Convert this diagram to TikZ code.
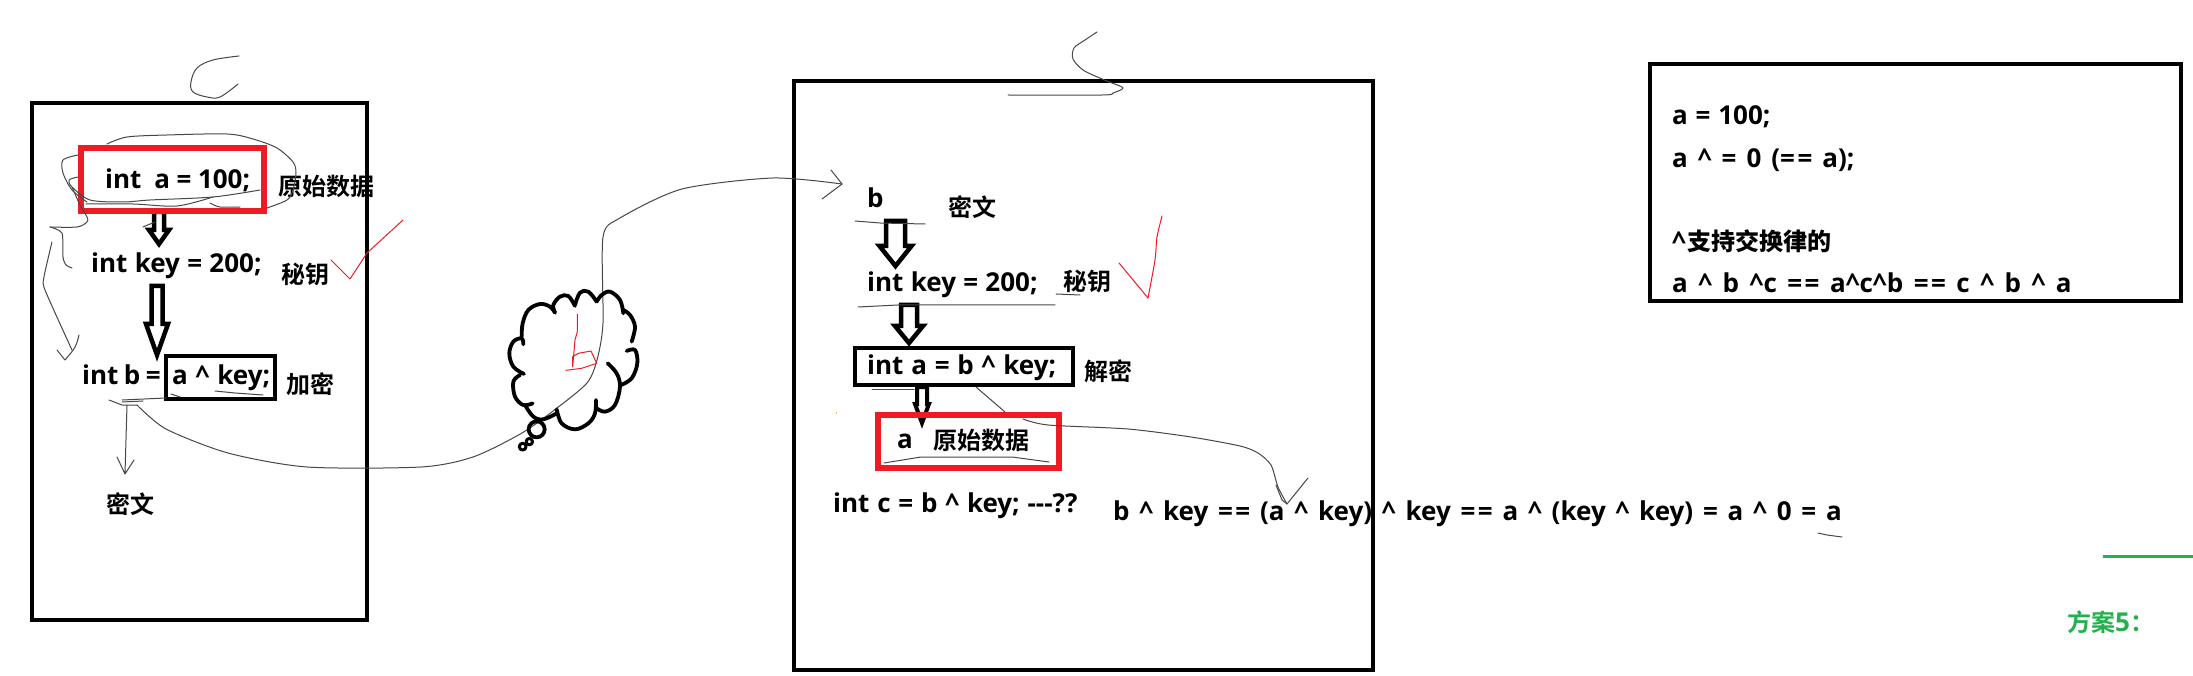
\documentclass[tikz,border=0pt]{standalone}
\usepackage{fontspec}
\setmainfont{Open Sans}[BoldFont={Open Sans Bold}]
\newfontfamily\cjk{Noto Sans CJK SC Bold}
\definecolor{rd}{RGB}{237,28,36}
\definecolor{gn}{RGB}{34,177,76}
\newcommand{\fatarr}[7][4.5pt]{%
 \draw[draw=black,fill=white,line width=#1,line join=miter,miter limit=10]
 (#2-#3,#5) -- (#2-#3,#6) -- (#2-#4,#6) -- (#2,#7) -- (#2+#4,#6) -- (#2+#3,#6) -- (#2+#3,#5) -- cycle;}
\newcommand{\eqq}{=\kern2.5pt=}
\newcommand{\xr}{\^{}}
\newcommand{\sk}[1]{\spaceskip #1pt\relax}
\tikzset{
 x=1pt,y=-1pt,
 frame/.style={draw=black,line width=4.6pt},
 redbox/.style={draw=rd,line width=6.5pt},
 blackbox/.style={draw=black,line width=4pt},
 code/.style={font=\fontsize{26}{26}\selectfont\bfseries,anchor=base west,inner sep=0pt,text=black,execute at begin node={\sk{7.8}}},
 zh/.style={font=\fontsize{24}{24}\selectfont\cjk,anchor=base west,inner sep=0pt,text=black},
 pen/.style={draw=black!72,line width=1pt,line join=round,line cap=round},
 redpen/.style={draw=rd,line width=1pt,line join=round,line cap=round},
 cloudline/.style={draw=black,line width=3.8pt,line cap=round,line join=round},
 zoomA/.style={shift={(440,150)},x=0.33333pt,y=-0.33333pt},
}
\begin{document}
\begin{tikzpicture}
\useasboundingbox (0,0) rectangle (2193,676);
\fill[white] (0,0) rectangle (2193,676);
% frames
\coordinate (fa) at (32,103);\coordinate (fb) at (367,620);
\draw[frame] (fa) rectangle (fb);
\coordinate (ga) at (794,81);\coordinate (gb) at (1373,670);
\draw[frame] (ga) rectangle (gb);
\coordinate (ha) at (1650,64);\coordinate (hb) at (2181,301);
\draw[frame,line width=3.8pt] (ha) rectangle (hb);
% left fat arrows and boxes
\fatarr{159}{5}{10}{212}{230}{244}
\fatarr{157}{5.5}{11}{286}{324}{355}
\draw[redbox] (81,148) rectangle (264,211);
\draw[blackbox] (166,356) rectangle (275,399);
% left text
\node[code] (t1) at (105,189) {\sk{6.5}int\ \ a = 100;};
\node[zh] (z1) at (278,196) {原始数据};
\node[code] (t2) at (91,273) {\sk{7.3}int key = 200;};
\node[zh] (z2) at (281,284) {秘钥};
\node[code] (t3) at (82,384) {\sk{5.5}int b =};
\node[code] (t4) at (172,384) {a \xr{} key;};
\node[zh] (z3) at (286,393) {加密};
\node[zh] (z4) at (106,513) {密文};
% middle fat arrows and boxes
\fatarr{895.5}{9.5}{16}{221}{246}{266}
\fatarr{909}{8}{14}{305}{326}{343}
\fatarr[4pt]{922}{5}{7}{387}{404}{423}
\draw[blackbox] (855,348) rectangle (1073,385);
\draw[redbox] (878,415) rectangle (1059,468);
% middle text
\node[code] (m1) at (867,208) {b};
\node[zh] (m2) at (948,217) {密文};
\node[code] (m3) at (867,292) {\sk{7.3}int key = 200;};
\node[zh] (m4) at (1063,291) {秘钥};
\node[code] (m5) at (867,374) {int a = b \xr{} key;};
\node[zh] (m6) at (1084,381) {解密};
\node[code] (m7) at (897,448) {a};
\node[zh] (m8) at (933,449) {原始数据};
\node[code] (m9) at (833,512) {int c = b \xr{} key; -{}-{}-??};
\node[code] (eq) at (1113,520) {\sk{9.8}b \xr{} key \eqq{} (a \xr{} key) \xr{} key \eqq{} a \xr{} (key \xr{} key) = a \xr{} 0 = a};
% right text
\node[code] (r1) at (1672,125) {a = 100;};
\node[code] (r2) at (1672,168) {\sk{10}a \xr{} = 0 (\eqq{} a);};
\node[code] (r3) at (1672,251) {\xr{}\hspace{1pt}{\fontsize{24}{24}\selectfont\cjk 支持交换律的}};
\node[code] (r4) at (1672,293) {\sk{10.5}a \xr{} b \xr{}c \eqq{} a\xr{}c\xr{}b \eqq{} c \xr{} b \xr{} a};
% green
\coordinate (g1) at (2103,556);\coordinate (g2) at (2193,556);
\draw[gn,line width=3pt] (g1) -- (g2);
\node[zh,text=gn] (g3) at (2067,631) {方案{\fontsize{26}{26}\selectfont\bfseries\rmfamily 5}：};
% pen scribbles: left
\draw[pen] plot[smooth,tension=0.6] coordinates {(239,56)(213,60)(197,68)(191,82)(193,92)(207,97)(220,97)(238,84)};
\draw[pen] plot[smooth,tension=0.5] coordinates {(107,144)(127,137)(167,135)(227,134)(253,139)(277,148)(293,162)(296,173)(293,190)(287,200)(267,208)};
\draw[pen] plot[smooth,tension=0.5] coordinates {(78,155)(63,160)(63,173)(72,190)(87,202)};
\draw[pen] plot[smooth,tension=0.5] coordinates {(260,190)(213,197)(150,200)(123,202)(90,200)(72,187)(69,180)(78,177)};
\draw[pen] plot[smooth,tension=0.5] coordinates {(86,204)(133,204)(177,206)(213,197)};
\draw[pen] plot[smooth,tension=0.5] coordinates {(210,203)(220,207)(240,207)};
\draw[pen] plot[smooth,tension=0.5] coordinates {(72,187)(80,205)(87,217)(87,222)(77,227)(50,227)};
\draw[pen] plot[smooth,tension=0.4] coordinates {(50,227)(62,233)(63,257)(66,265)(72,268)};
\draw[pen] plot[smooth,tension=0.4] coordinates {(52,242)(44,277)(45,290)(72,350)};
\draw[pen] (79,335) .. controls (76,347) .. (65,360) -- (57,350);
\draw[pen] (143,227) -- (155,222);
\draw[redpen] (331,260) -- (350,279) -- (367,253) -- (403,220);
\draw[pen] (171,394) -- (180,397);
\draw[pen] (215,391) -- (235,393) -- (263,395);
\draw[pen] (122,400) -- (166,398);
\draw[pen] (122,402) -- (143,401);
\draw[pen] (109,400) -- (122,405) -- (137,405);
% long pen connector from left to middle
\coordinate (c1) at (127,405);\coordinate (c2) at (125,474);
\draw[pen] (c1) -- (c2) (117,457) -- (c2) -- (134,460);
\coordinate (lc) at (137,405);\coordinate (rc) at (842,184);
\draw[pen] plot[smooth,tension=0.45] coordinates {(lc)(166,429)(228,453)(307,467)(421,467)(473,457)(522,433)(557,408)(587,383)(597,360)(603,323)(603,237)(620,218)(682,189)(773,178)(rc)};
\draw[pen] (831,170) -- (rc) -- (822,199);
% cloud
\begin{scope}[zoomA]
\draw[cloudline] plot[smooth,tension=0.6] coordinates {(345,488)(330,470)(300,462)(265,480)(248,520)(245,560)};
\draw[cloudline] plot[smooth,tension=0.6] coordinates {(250,583)(245,565)(220,575)(208,610)(220,650)(252,672)};
\draw[cloudline] plot[smooth,tension=0.6] coordinates {(240,675)(220,695)(225,740)(250,765)(278,760)};
\draw[cloudline] plot[smooth,tension=0.6] coordinates {(255,765)(280,800)(310,808)(350,790)};
\draw[cloudline] plot[smooth,tension=0.6] coordinates {(350,778)(365,820)(405,838)(445,820)(465,790)(468,750)};
\draw[cloudline] plot[smooth,tension=0.6] coordinates {(470,775)(495,785)(525,765)(540,710)(530,670)(503,640)};
\draw[cloudline] plot[smooth,tension=0.6] coordinates {(543,705)(575,685)(592,640)(585,600)(560,603)};
\draw[cloudline] plot[smooth,tension=0.6] coordinates {(575,575)(585,530)(570,495)(550,480)};
\draw[cloudline] plot[smooth,tension=0.6] coordinates {(550,490)(540,450)(510,425)(485,435)(470,455)};
\draw[cloudline] plot[smooth,tension=0.6] coordinates {(470,455)(445,425)(420,428)(405,465)};
\draw[cloudline] plot[smooth,tension=0.6] coordinates {(405,468)(385,438)(360,440)(340,465)(345,488)};
\draw[cloudline] (290,838) circle[radius=8pt];
\draw[cloudline,line width=3pt] (268,875) circle[radius=3.2pt];
\draw[cloudline,line width=3pt] (248,890) circle[radius=3.4pt];
\draw[redpen] (412,493) -- (412,545) -- (405,570) -- (398,650) -- (398,620) -- (415,610) -- (453,603) -- (470,640) -- (425,655) -- (378,661);
\end{scope}
% pen scribbles: middle
\draw[pen] plot[smooth,tension=0.5] coordinates {(1097,32)(1085,40)(1074,48)(1073,59)(1083,70)(1102,79)(1112,83)(1123,88)(1113,93)(1102,95)(1008,95)};
\draw[pen] (855,221) -- (880,223) -- (925,224);
\draw[pen] (1056,294) -- (1080,295);
\draw[pen] (858,307) -- (898,305) -- (1055,305);
\draw[redpen] plot[smooth,tension=0.3] coordinates {(1119,263)(1148,298)};
\draw[redpen] plot[smooth,tension=0.4] coordinates {(1148,298)(1155,260)(1157,237)(1162,216)};
\draw[pen] (884,463) -- (921,457) -- (1012,457) -- (1049,462);
\draw[pen] (872,389) -- (914,389);
\draw[pen] (976,387) -- (1005,412);
\coordinate (d1) at (1023,419);\coordinate (d2) at (1287,504);
\draw[pen] plot[smooth,tension=0.45] coordinates {(d1)(1048,425)(1128,429)(1191,437)(1240,446)(1258,453)(1271,465)(1278,487)(d2)};
\draw[pen] (1276,485) -- (1282,500) -- (d2) -- (1308,478);
\draw[pen] (1818,533) -- (1827,535) -- (1842,537);
\fill[orange!60] (835.5,412) rectangle (836.5,414);
\end{tikzpicture}
\end{document}
